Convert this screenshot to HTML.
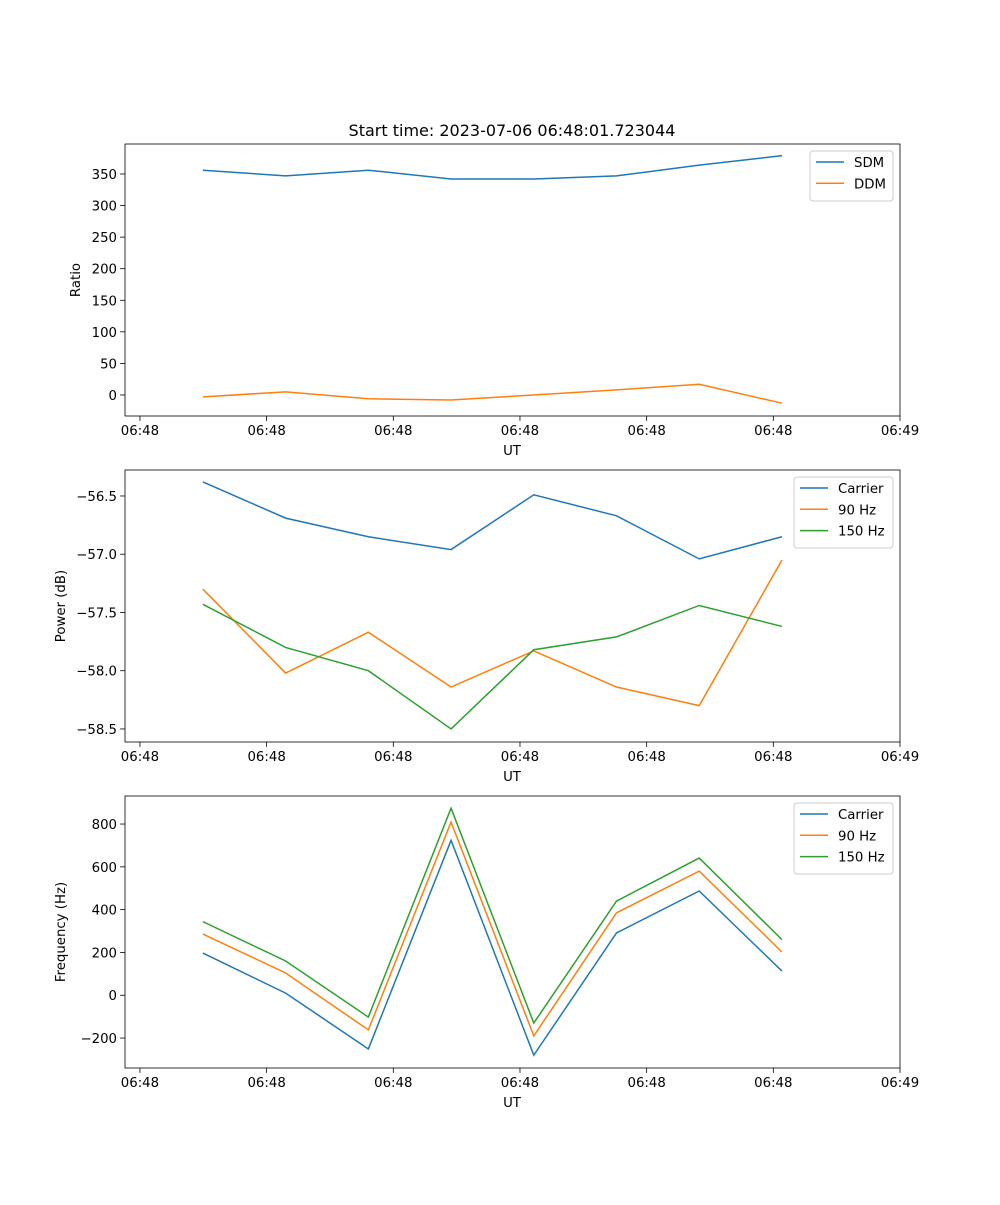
<!DOCTYPE html>
<html><head><meta charset="utf-8"><style>
body{margin:0;background:#fff}
svg text{font-family:"DejaVu Sans","Liberation Sans",sans-serif;font-size:13.3px;fill:#000}
</style></head><body>
<svg id="fig" width="1000" height="1200" xmlns="http://www.w3.org/2000/svg">
<text x="512" y="136" text-anchor="middle" style="font-size:16px">Start time: 2023-07-06 06:48:01.723044</text>
</svg>
<script>
const times=[4.97,11.50,18.03,24.56,31.09,37.62,44.15,50.68];
const xTickVals=[0,10,20,30,40,50,60];
const xTickLabels=["06:48","06:48","06:48","06:48","06:48","06:48","06:49"];
const sdm=[356,347,356,342,342,347,364,379];
const ddm=[-3,5,-6,-8,0,8,17,-13];
const powCarrier=[-56.38,-56.69,-56.85,-56.96,-56.49,-56.67,-57.04,-56.85];
const pow90=[-57.30,-58.02,-57.67,-58.14,-57.83,-58.14,-58.30,-57.05];
const pow150=[-57.43,-57.80,-58.00,-58.50,-57.82,-57.71,-57.44,-57.62];
const freqCarrier=[197,10,-251,724,-280,291,487,113];
const freq90=[286,104,-162,809,-190,385,580,202];
const freq150=[344,160,-102,874,-130,440,641,260];
const ratioTicks=[0,50,100,150,200,250,300,350];
const powTicks=[-58.5,-58.0,-57.5,-57.0,-56.5];
const powTickLabels=["\u221258.5","\u221258.0","\u221257.5","\u221257.0","\u221256.5"];
const freqTicks=[-200,0,200,400,600,800];
const freqTickLabels=["\u2212200","0","200","400","600","800"];
const C=["#1f77b4","#ff7f0e","#2ca02c"];
const svg=document.getElementById('fig');
const NS="http://www.w3.org/2000/svg";
function mk(t,a,p){const e=document.createElementNS(NS,t);for(const k in a)e.setAttribute(k,a[k]);(p||svg).appendChild(e);return e;}
const X0=125,X1=900,XMIN=-1.18,XMAX=60;
const xs=v=>X0+(v-XMIN)/(XMAX-XMIN)*(X1-X0);
function panel(name,top,ymin,ymax,yt,ytl,ylabel,series,names,legW,legX){
  const bot=top+272;
  const ys=v=>bot-(v-ymin)/(ymax-ymin)*272;
  const g=mk('g',{});
  
  
  series.forEach((s,k)=>{
    const p=mk('polyline',{points:s.map((v,i)=>xs(times[i])+','+ys(v)).join(' '),fill:'none',stroke:C[k],'stroke-width':1.5},g);
    
    
  });
  const fr=mk('rect',{x:X0,y:top,width:X1-X0,height:272,fill:'none',stroke:'#000','stroke-width':0.8},g);
  
  
  xTickVals.forEach((v,i)=>{const x=xs(v);
    mk('line',{x1:x,x2:x,y1:bot,y2:bot+4.9,stroke:'#000','stroke-width':0.8},g);
    const t=mk('text',{x:x,y:bot+19,'text-anchor':'middle'},g);t.textContent=xTickLabels[i];
    
    });
  yt.forEach((v,i)=>{const y=ys(v);
    mk('line',{x1:X0-4.9,x2:X0,y1:y,y2:y,stroke:'#000','stroke-width':0.8},g);
    const t=mk('text',{x:X0-8,y:y+5,'text-anchor':'end'},g);t.textContent=ytl[i];
    
    });
  const xl=mk('text',{x:512,y:bot+39,'text-anchor':'middle'},g);xl.textContent='UT';
  
  
  const lx=ylabel==='Ratio'?80:65;
  const yl=mk('text',{x:lx,y:top+136,'text-anchor':'middle',transform:`rotate(-90 ${lx} ${top+136})`},g);yl.textContent=ylabel;
  
  
  const lg=mk('g',{},g);
  
  
  const lh=8+names.length*21;
  mk('rect',{x:legX,y:top+7,width:legW,height:lh,rx:3,fill:'#fff',stroke:'#ccc','fill-opacity':0.8},lg);
  names.forEach((n,k)=>{const y=top+18+k*21.3;
    mk('line',{x1:legX+6,x2:legX+34,y1:y,y2:y,stroke:C[k],'stroke-width':1.5},lg);
    const t=mk('text',{x:legX+44,y:y+5},lg);t.textContent=n;
    
    });
}
panel('ratio-panel',144,-33.3,397.5,ratioTicks,ratioTicks.map(String),'Ratio',[sdm,ddm],['SDM','DDM'],83,810);
panel('power-panel',470,-58.612,-56.277,powTicks,powTickLabels,'Power (dB)',[powCarrier,pow90,pow150],['Carrier','90 Hz','150 Hz'],99,794);
panel('frequency-panel',796,-340,931,freqTicks,freqTickLabels,'Frequency (Hz)',[freqCarrier,freq90,freq150],['Carrier','90 Hz','150 Hz'],99,794);
</script>
</body></html>
